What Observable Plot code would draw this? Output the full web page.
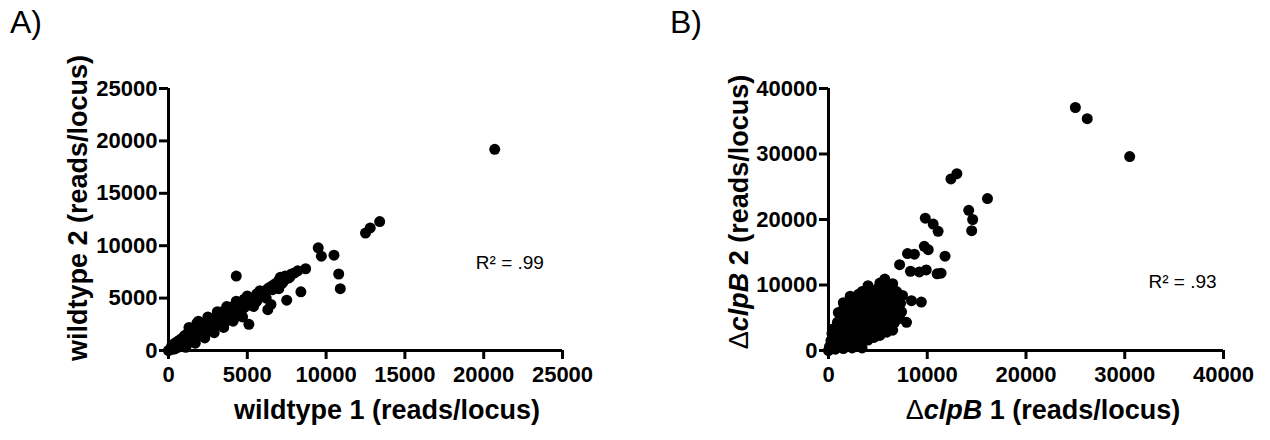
<!DOCTYPE html>
<html>
<head>
<meta charset="utf-8">
<script src="https://cdn.jsdelivr.net/npm/d3@7"></script>
<script src="https://cdn.jsdelivr.net/npm/@observablehq/plot@0.6"></script>
<style>
  body { margin: 0; background: #fff; }
  #wrap { position: relative; width: 1270px; height: 440px; font-family: "Liberation Sans", Arial, Helvetica, sans-serif; color: #000; }
  .panel { position: absolute; top: 0; }
  .tag { position: absolute; top: 6px; font-size: 32px; line-height: 1; }
</style>
</head>
<body>
<div id="wrap">
  <div class="tag" style="left:10px">A)</div>
  <div class="tag" style="left:670px">B)</div>
  <div id="pa" class="panel" style="left:0"></div>
  <div id="pb" class="panel" style="left:635px"></div>
</div>
<script>
// ---- data: [replicate 1, replicate 2] reads per locus ----
const wildtypeReads = [
  [0,0],[200,450],[200,100],[400,150],[400,700],[600,300],[600,900],[800,1100],[800,500],
  [1000,1400],[1000,600],[1200,700],[1200,1600],[1400,1200],[1400,2000],[1400,800],
  [1600,1000],[1600,1700],[1800,2600],[1800,1300],[2000,1400],[2000,2100],[2200,2500],[2200,1600],
  [2400,1800],[2400,2700],[2600,2200],[2600,3000],[2800,2000],[2800,2800],[3000,3200],[3000,2300],
  [3200,2500],[3200,3400],[3400,3000],[3400,3700],[3600,2700],[3600,3400],[3800,3900],[3800,3000],
  [4000,3300],[4000,4100],[4200,3600],[4200,4300],[4400,3300],[4400,4000],[4600,4500],[4600,3700],
  [4800,4100],[4800,4900],[5000,4300],[5000,5200],[5200,4600],[5400,5000],[5400,4200],[5600,5400],
  [5600,4700],[5800,5100],[5800,5700],[6000,5500],[6200,5700],[6200,5000],[6400,6000],[6600,5800],
  [6600,6200],[6800,6400],[7000,6700],[7000,5900],[7200,6400],[7400,7100],[7600,6900],[7800,7300],
  [8000,7400],[8200,7600],[8700,7800],[7100,7000],
  [1300,2200],[1900,2800],[2500,3200],[3100,3700],[3700,4200],[4300,4700],
  [1100,300],[1700,700],[2300,1200],[2900,1700],[3500,2200],[4100,2800],[4700,3200],
  [500,500],[700,600],[900,800],[1100,1000],[1300,1100],[1500,1400],[1700,1500],[1900,1700],
  [2100,1900],[2300,2100],[2500,2300],[2700,2500],[2900,2600],[3100,2900],[3300,3000],[3500,3200],
  [3700,3500],[3900,3600],[4100,3900],[4300,4000],[4500,4200],[4700,4400],[4900,4600],[5100,4700],
  [5300,4900],[5500,5100],[5700,5300],[5900,5400],[6100,5300],[6300,5900],[6500,6000],[6700,6000],
  [6900,6300],[7300,6600],[7700,7000],
  [5100,2500],[6300,3900],[6500,4400],[7500,4800],[8400,5600],[4300,7100],
  [9500,9800],[9700,9000],[10500,9100],[10800,7300],[10900,5900],
  [12500,11200],[12800,11700],[13400,12300],[20700,19200]
];
const clpBReads = [
  [0,0],[100,600],[250,1500],[350,2600],[300,300],[450,3300],
  [700,200],[750,1200],[650,2300],[800,3400],[900,4300],
  [1100,600],[1200,1700],[1050,2900],[1250,4000],[1200,5100],[1000,5800],
  [1500,300],[1600,1200],[1450,2300],[1650,3300],[1500,4500],[1700,5600],[1550,6500],[1500,7300],
  [2000,800],[2100,1900],[1950,3000],[2150,4100],[2000,5300],[2200,6300],[2050,7200],[2200,8300],
  [2400,400],[2500,1400],[2600,2600],[2450,3700],[2650,4800],[2500,5900],[2700,7000],[2600,8100],
  [2900,1100],[3000,2200],[3100,3300],[2950,4400],[3150,5500],[3000,6600],[3200,7600],[3050,8600],
  [3400,400],[3600,1700],[3500,2800],[3650,3900],[3450,5000],[3600,6100],[3500,7200],[3700,8300],[3400,9000],
  [4000,1600],[4200,2500],[4050,3600],[4250,4700],[4100,5800],[4300,6900],[4150,8000],[4300,9000],[4000,9900],
  [4600,2000],[4800,3000],[4650,4100],[4850,5200],[4700,6300],[4900,7400],[4750,8500],[5000,9500],
  [5200,2300],[5400,3400],[5300,4500],[5500,5600],[5300,6700],[5500,7800],[5350,8900],[5700,10900],[5200,10300],
  [5900,2800],[6100,3600],[5900,4800],[6100,6000],[5950,7100],[6200,8200],[6000,9400],
  [6500,3100],[6700,4300],[6600,5500],[6800,6700],[6600,7800],[6900,9000],[6500,10200],
  [7200,4900],[7400,5900],[7300,7200],[7500,8400],
  [7200,13100],[8000,14800],[8700,14700],[9700,15900],[10100,15400],[11800,14400],
  [8300,12100],[9200,12000],[9900,12300],[11000,11700],[11400,11800],
  [8400,7600],[9400,7400],[7900,4300],
  [9800,20200],[10600,19300],[11100,18200],
  [12400,26200],[13000,27000],[14200,21400],[14600,20000],[14500,18300],[16100,23200],
  [25000,37100],[26200,35400],[30500,29600]
];
const wildtypeTicks = [0, 5000, 10000, 15000, 20000, 25000];
const clpBTicks = [0, 10000, 20000, 30000, 40000];
const wildtypeNote = [{x: 19500, y: 8400, text: "R\u00B2 = .99"}];
const clpBNote = [{x: 32400, y: 10400, text: "R\u00B2 = .93"}];

const FONT = '"Liberation Sans", Arial, Helvetica, sans-serif';

function panel({data, ticks, note, marginLeft, marginRight}) {
  const max = ticks[ticks.length - 1];
  return Plot.plot({
    width: 635,
    height: 440,
    marginTop: 88,
    marginBottom: 90,
    marginLeft,
    marginRight,
    x: {domain: [0, max]},
    y: {domain: [0, max]},
    style: {fontFamily: FONT, fontSize: "22px", color: "#000", background: "transparent", overflow: "visible"},
    marks: [
      Plot.axisX(ticks, {tickSize: 9, tickPadding: 7, strokeWidth: 3, label: null, fontWeight: "bold", fontSize: 22, tickFormat: d => String(d)}),
      Plot.axisY(ticks, {tickSize: 9, tickPadding: 2, strokeWidth: 3, label: null, fontWeight: "bold", fontSize: 22, tickFormat: d => String(d)}),
      Plot.ruleX([0], {strokeWidth: 3}),
      Plot.ruleY([0], {strokeWidth: 3}),
      Plot.dot(data, {x: d => d[0], y: d => d[1], r: 5.5, fill: "#000", stroke: "none"}),
      Plot.text(note, {x: "x", y: "y", text: "text", textAnchor: "start", fontSize: 19, fontWeight: "normal"})
    ]
  });
}

function addTitle(svg, x, y, rotate, parts) {
  const t = d3.select(svg).append("text")
    .attr("transform", `translate(${x},${y})` + (rotate ? " rotate(-90)" : ""))
    .attr("text-anchor", "middle")
    .attr("font-family", FONT)
    .attr("font-size", 27)
    .attr("fill", "#000");
  for (const p of parts) {
    t.append("tspan")
      .attr("font-weight", p.w || "bold")
      .attr("font-style", p.i ? "italic" : "normal")
      .text(p.t);
  }
}

const a = panel({data: wildtypeReads, ticks: wildtypeTicks, note: wildtypeNote, marginLeft: 168, marginRight: 73});
addTitle(a, 387, 419, false, [{t: "wildtype 1 (reads/locus)"}]);
addTitle(a, 87, 208, true, [{t: "wildtype 2 (reads/locus)"}]);
document.getElementById("pa").append(a);

const b = panel({data: clpBReads, ticks: clpBTicks, note: clpBNote, marginLeft: 193, marginRight: 47});
addTitle(b, 408, 419, false, [{t: "\u0394", w: "normal"}, {t: "clpB", i: true}, {t: " 1 (reads/locus)"}]);
addTitle(b, 113, 212, true, [{t: "\u0394", w: "normal"}, {t: "clpB", i: true}, {t: " 2 (reads/locus)"}]);
document.getElementById("pb").append(b);
</script>
</body>
</html>
